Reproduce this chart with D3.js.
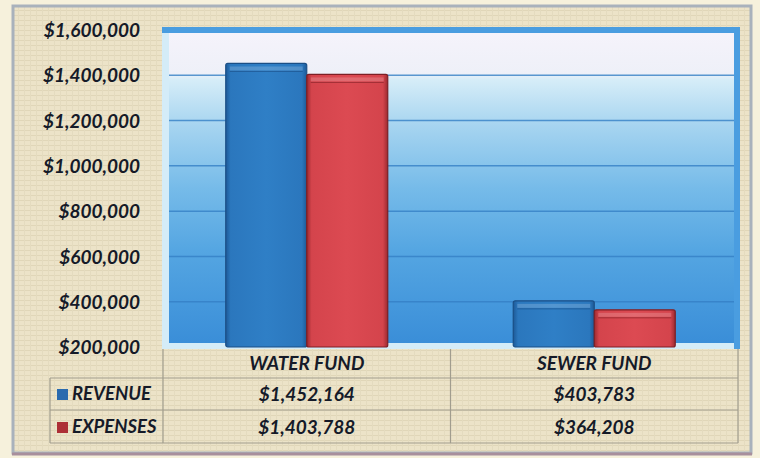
<!DOCTYPE html>
<html>
<head>
<meta charset="utf-8">
<script src="https://cdn.jsdelivr.net/npm/d3@7/dist/d3.min.js"></script>
<style>
  html, body { margin: 0; padding: 0; background: #f6f1dc; }
  svg { display: block; }
  text { font-family: Lato, "Open Sans", sans-serif; font-weight: 700; font-style: italic; fill: #151a28; }
</style>
</head>
<body>
<script>
const categories = ["WATER FUND", "SEWER FUND"];
const seriesNames = ["REVENUE", "EXPENSES"];
const revenue = [1452164, 403783];
const expenses = [1403788, 364208];
const yTicks = [200000, 400000, 600000, 800000, 1000000, 1200000, 1400000, 1600000];

const W = 760, H = 458;
const svg = d3.select("body").append("svg").attr("width", W).attr("height", H);
const defs = svg.append("defs");

// textured beige
const pat = defs.append("pattern").attr("id", "tex").attr("width", 6).attr("height", 5).attr("patternUnits", "userSpaceOnUse");
pat.append("rect").attr("width", 6).attr("height", 5).attr("fill", "#ece3c8");
pat.append("line").attr("x1", 0).attr("y1", 0.5).attr("x2", 6).attr("y2", 0.5).attr("stroke", "#e0d6b8").attr("stroke-width", 1);
pat.append("line").attr("x1", 0.5).attr("y1", 0).attr("x2", 0.5).attr("y2", 5).attr("stroke", "#e4dbbf").attr("stroke-width", 1);

const wallGrad = defs.append("linearGradient").attr("id", "wall").attr("x1", 0).attr("y1", 0).attr("x2", 0).attr("y2", 1);
[[0, "#f5f3fb"], [0.13, "#eef0f8"], [0.15, "#d6edf8"], [0.3, "#a6d4f0"], [0.5, "#76bbe9"], [0.7, "#55a6e2"], [1, "#3a8ed8"]]
  .forEach(([o, c]) => wallGrad.append("stop").attr("offset", o).attr("stop-color", c));

function barGrad(id, light, mid, dark) {
  const g = defs.append("linearGradient").attr("id", id).attr("x1", 0).attr("y1", 0).attr("x2", 1).attr("y2", 0);
  [[0, dark], [0.06, mid], [0.5, light], [0.94, mid], [1, dark]].forEach(([o, c]) => g.append("stop").attr("offset", o).attr("stop-color", c));
}
barGrad("gBlue", "#2f7fc6", "#2b77bd", "#1d5a98");
barGrad("gRed", "#dc4a52", "#d4444c", "#9c2a30");
const colors = { REVENUE: "url(#gBlue)", EXPENSES: "url(#gRed)" };
const edge = { REVENUE: "#1b4f86", EXPENSES: "#7e1f25" };
const swatch = { REVENUE: "#2a6aae", EXPENSES: "#ad2f36" };

// outer frame
svg.append("rect").attr("x", 13).attr("y", 6).attr("width", 738).attr("height", 447)
  .attr("fill", "url(#tex)").attr("stroke", "#a9b2bc").attr("stroke-width", 3);
svg.append("line").attr("x1", 12).attr("x2", 752).attr("y1", 454).attr("y2", 454).attr("stroke", "#a88f9c").attr("stroke-width", 3);

// scales
const y = d3.scaleLinear().domain([200000, 1600000]).range([347, 30]);
const x0 = d3.scaleBand().domain(categories).range([163, 738]);
const x1 = d3.scaleBand().domain(seriesNames).range([0, 162]);

// plot wall
svg.append("rect").attr("x", 162).attr("y", 27).attr("width", 578).attr("height", 322).attr("fill", "#4a9de0");
svg.append("rect").attr("x", 162).attr("y", 33).attr("width", 7).attr("height", 316).attr("fill", "#d4ecf8");
svg.append("rect").attr("x", 162).attr("y", 343).attr("width", 572).attr("height", 6).attr("fill", "#d4ecf8");
svg.append("rect").attr("x", 169).attr("y", 33).attr("width", 565).attr("height", 310).attr("fill", "url(#wall)");

// gridlines
svg.append("g").selectAll("line").data(yTicks.filter(t => t > 200000 && t < 1600000)).join("line")
  .attr("x1", 169).attr("x2", 734).attr("y1", d => y(d)).attr("y2", d => y(d))
  .attr("stroke", "#3580c6").attr("stroke-width", 1.5).attr("opacity", 0.8);

// y axis labels
const yAxis = d3.axisLeft(y).tickValues(yTicks).tickSize(0).tickPadding(0)
  .tickFormat(d => "$" + d3.format(",")(d));
svg.append("g").attr("transform", "translate(140,0)").call(yAxis)
  .call(g => g.select(".domain").remove())
  .selectAll("text").attr("font-size", 19).attr("dy", "0.35em")
  .style("font-family", "Lato, sans-serif").style("font-weight", 700).style("font-style", "italic").attr("fill", "#151a28");

// bars
const data = categories.map((c, i) => ({ cat: c, vals: [{ s: "REVENUE", v: revenue[i] }, { s: "EXPENSES", v: expenses[i] }] }));
const groups = svg.append("g").selectAll("g").data(data).join("g")
  .attr("transform", d => `translate(${x0(d.cat) + x0.bandwidth() / 2 - 81},0)`);
groups.selectAll("rect.bar").data(d => d.vals).join("rect").attr("class", "bar")
  .attr("x", d => x1(d.s)).attr("width", x1.bandwidth())
  .attr("y", d => y(d.v)).attr("height", d => y(200000) - y(d.v))
  .attr("rx", 2)
  .attr("fill", d => colors[d.s]).attr("stroke", d => edge[d.s]).attr("stroke-width", 1.2);
groups.selectAll("rect.hl").data(d => d.vals).join("rect").attr("class", "hl")
  .attr("x", d => x1(d.s) + 4).attr("width", x1.bandwidth() - 8)
  .attr("y", d => y(d.v) + 3).attr("height", 4)
  .attr("fill", "#ffffff").attr("opacity", 0.18);
groups.selectAll("line.shade").data(d => d.vals).join("line").attr("class", "shade")
  .attr("x1", d => x1(d.s) + 4).attr("x2", d => x1(d.s) + x1.bandwidth() - 4)
  .attr("y1", d => y(d.v) + 8).attr("y2", d => y(d.v) + 8)
  .attr("stroke", d => edge[d.s]).attr("stroke-width", 1).attr("opacity", 0.6);

// data table
const lineColor = "#a19d8e";
const tbl = svg.append("g");
[378, 410, 443].forEach(yy => tbl.append("line").attr("x1", 50).attr("x2", 738).attr("y1", yy).attr("y2", yy).attr("stroke", lineColor).attr("stroke-width", 1.2));
tbl.append("line").attr("x1", 50).attr("x2", 50).attr("y1", 378).attr("y2", 443).attr("stroke", lineColor).attr("stroke-width", 1.2);
[163, 450.5, 738].forEach(xx => tbl.append("line").attr("x1", xx).attr("x2", xx).attr("y1", 349).attr("y2", 443).attr("stroke", lineColor).attr("stroke-width", 1.2));

tbl.selectAll("text.cat").data(categories).join("text").attr("class", "cat")
  .attr("x", d => x0(d) + x0.bandwidth() / 2).attr("y", 363).attr("dy", "0.35em")
  .attr("text-anchor", "middle").attr("font-size", 19).text(d => d);

const rowY = [394, 427];
const seriesVals = [revenue, expenses];
seriesNames.forEach((s, i) => {
  tbl.append("rect").attr("x", 57).attr("y", rowY[i] - 5).attr("width", 11).attr("height", 11).attr("fill", swatch[s]);
  tbl.append("text").attr("x", 72).attr("y", rowY[i]).attr("dy", "0.35em").attr("font-size", 18.5).text(s);
  tbl.selectAll(null).data(categories).join("text")
    .attr("x", d => x0(d) + x0.bandwidth() / 2).attr("y", rowY[i]).attr("dy", "0.35em")
    .attr("text-anchor", "middle").attr("font-size", 19)
    .text((d, j) => "$" + d3.format(",")(seriesVals[i][j]));
});
</script>
</body>
</html>
